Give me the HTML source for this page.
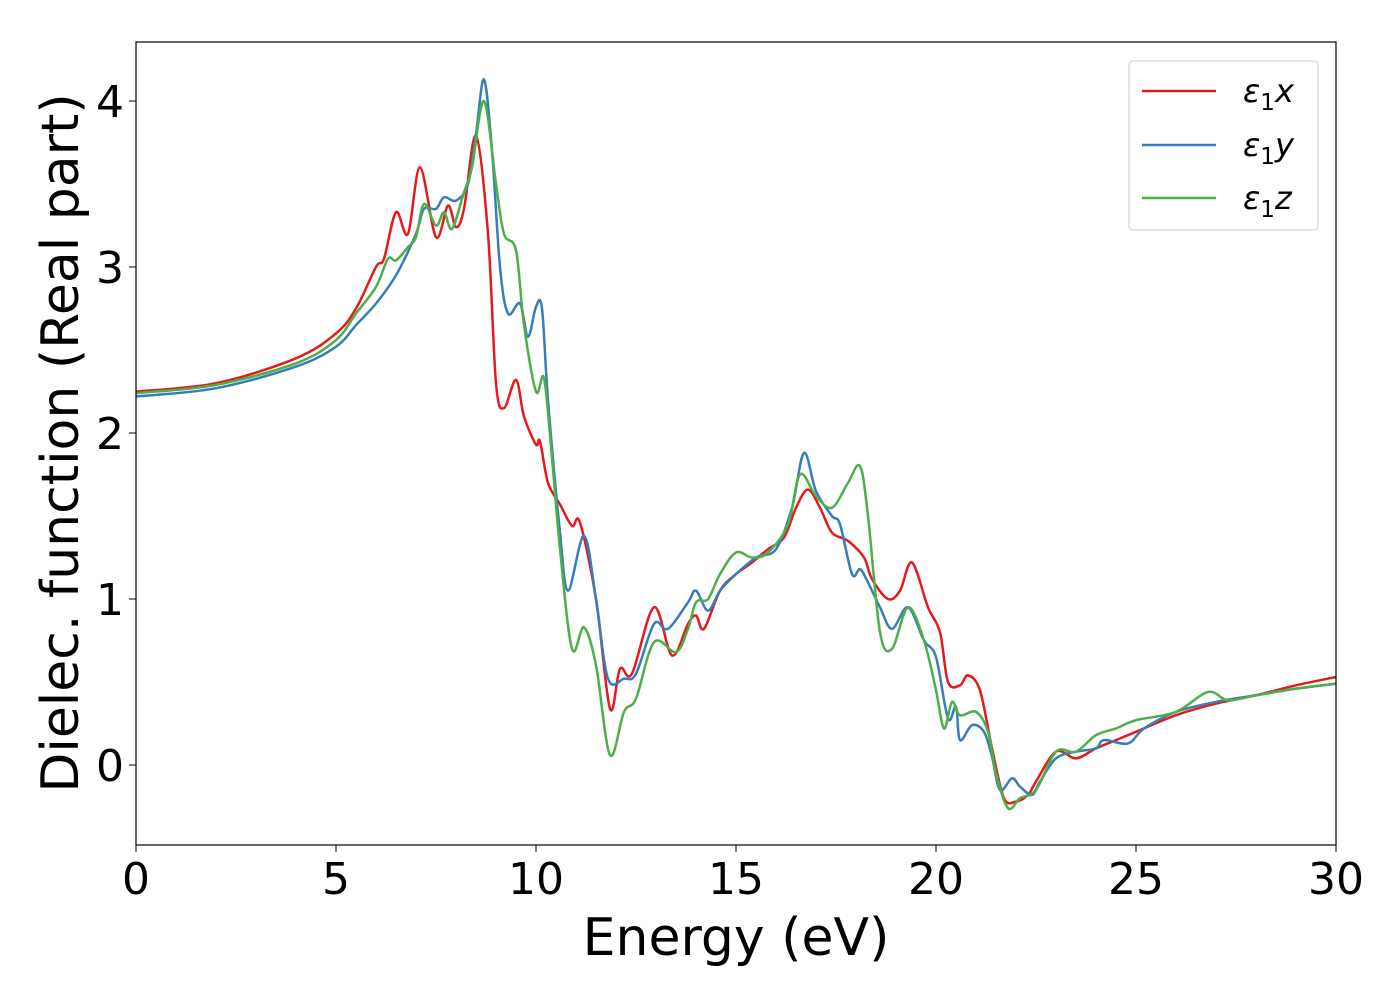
<!DOCTYPE html>
<html><head><meta charset="utf-8"><style>
body{margin:0;background:#fff;}
svg text{font-family:"DejaVu Sans","Liberation Sans",sans-serif;fill:#000;}
</style></head><body>
<svg id="chart" width="1400" height="1000" xmlns="http://www.w3.org/2000/svg">
<g id="grid"></g>
<g id="series"></g>
<rect x="136" y="42" width="1200" height="803" fill="none" stroke="#000" stroke-width="1.2"/>
<g id="ticks"></g>
<text x="736" y="955" font-size="52" text-anchor="middle">Energy (eV)</text>
<text transform="translate(78,443) rotate(-90)" font-size="52" text-anchor="middle">Dielec. function (Real part)</text>
<g>
<rect x="1129" y="61" width="189" height="169" rx="4" fill="#fff" stroke="#ccc" stroke-width="1"/>
<line x1="1142" y1="91" x2="1216" y2="91" stroke="#e41a1c" stroke-width="2.5"/>
<text x="1243" y="102" font-size="32" font-style="italic">ε<tspan font-style="normal" font-size="23" dy="8">1</tspan><tspan dy="-8">x</tspan></text>
<line x1="1142" y1="145" x2="1216" y2="145" stroke="#377eb8" stroke-width="2.5"/>
<text x="1243" y="156" font-size="32" font-style="italic">ε<tspan font-style="normal" font-size="23" dy="8">1</tspan><tspan dy="-8">y</tspan></text>
<line x1="1142" y1="198" x2="1216" y2="198" stroke="#4daf4a" stroke-width="2.5"/>
<text x="1243" y="209" font-size="32" font-style="italic">ε<tspan font-style="normal" font-size="23" dy="8">1</tspan><tspan dy="-8">z</tspan></text>
</g>
</svg>
<script>
const xTicks=[0,5,10,15,20,25,30];
const yTicks=[0,1,2,3,4];
const redE=[0,2,4,5,5.5,6,6.2,6.5,6.8,7.1,7.5,7.8,8.0,8.2,8.5,8.8,9.0,9.2,9.5,9.7,10.0,10.1,10.3,10.6,10.9,11.1,11.5,11.85,12.1,12.4,12.95,13.4,13.8,14.0,14.2,14.6,15.0,15.4,15.8,16.2,16.5,16.8,17.1,17.4,17.8,18.2,18.4,18.8,19.1,19.4,19.8,20.1,20.3,20.6,20.8,21.1,21.4,21.7,22.0,22.3,22.5,23.0,23.5,24.0,24.5,25,26,27,28,29,30];
const redV=[2.25,2.30,2.45,2.60,2.75,3.0,3.05,3.33,3.2,3.60,3.18,3.37,3.24,3.35,3.79,3.2,2.3,2.15,2.32,2.1,1.93,1.95,1.7,1.57,1.44,1.46,1.0,0.34,0.58,0.55,0.95,0.66,0.85,0.90,0.82,1.05,1.15,1.22,1.30,1.37,1.55,1.66,1.55,1.40,1.35,1.25,1.12,1.0,1.05,1.22,0.95,0.80,0.50,0.48,0.54,0.45,0.1,-0.2,-0.22,-0.18,-0.1,0.08,0.04,0.1,0.15,0.2,0.3,0.37,0.42,0.48,0.53];
const blueE=[0,2,4,5,5.5,6,6.5,7.0,7.2,7.5,7.7,8.0,8.3,8.5,8.7,8.9,9.1,9.3,9.6,9.8,10.0,10.15,10.3,10.6,10.8,11.2,11.5,11.8,12.2,12.5,12.95,13.3,13.8,14.0,14.3,14.6,15.0,15.5,16.0,16.4,16.7,17.0,17.4,17.6,17.9,18.1,18.3,18.6,18.9,19.3,19.7,20.0,20.3,20.5,20.6,20.9,21.2,21.4,21.6,21.9,22.1,22.4,22.6,23.0,23.5,24.0,24.2,24.8,25.2,26,27,28,29,30];
const blueV=[2.22,2.27,2.4,2.52,2.65,2.78,2.95,3.2,3.35,3.35,3.42,3.4,3.5,3.8,4.13,3.7,3.0,2.72,2.78,2.58,2.76,2.75,2.2,1.4,1.05,1.38,1.0,0.52,0.52,0.55,0.85,0.82,0.98,1.05,0.93,1.05,1.15,1.25,1.3,1.55,1.88,1.65,1.5,1.45,1.15,1.18,1.1,0.95,0.82,0.95,0.75,0.65,0.28,0.35,0.15,0.24,0.2,0.05,-0.15,-0.08,-0.13,-0.18,-0.1,0.04,0.08,0.1,0.15,0.13,0.22,0.32,0.38,0.42,0.46,0.49];
const greenE=[0,2,4,5,5.5,6,6.3,6.5,6.8,7.0,7.2,7.5,7.7,7.9,8.2,8.4,8.7,9.0,9.2,9.5,9.7,10.0,10.2,10.4,10.6,10.9,11.2,11.5,11.85,12.2,12.5,12.95,13.5,13.8,14.0,14.3,14.6,15.0,15.4,15.8,16.3,16.6,17.0,17.4,17.8,18.1,18.3,18.6,18.9,19.3,19.7,20.0,20.2,20.4,20.6,21.0,21.3,21.5,21.8,22.1,22.5,23.0,23.5,24,24.5,25,26,26.8,27.3,28,29,30];
const greenV=[2.24,2.29,2.42,2.56,2.72,2.88,3.05,3.04,3.12,3.18,3.38,3.25,3.33,3.23,3.45,3.6,4.0,3.5,3.2,3.1,2.65,2.25,2.33,1.85,1.3,0.7,0.83,0.6,0.06,0.32,0.4,0.74,0.68,0.82,0.98,1.0,1.15,1.28,1.25,1.28,1.45,1.75,1.62,1.55,1.7,1.8,1.5,0.80,0.7,0.95,0.75,0.45,0.22,0.38,0.30,0.32,0.2,-0.05,-0.26,-0.2,-0.15,0.08,0.08,0.18,0.22,0.27,0.32,0.44,0.39,0.42,0.46,0.49];
const xS=e=>136+e*40;
const yS=v=>765-v*166;
const NS="http://www.w3.org/2000/svg";
const tg=document.getElementById('ticks');
xTicks.forEach(t=>{
  const l=document.createElementNS(NS,'line');
  
  
  l.setAttribute('x1',xS(t));l.setAttribute('x2',xS(t));l.setAttribute('y1',845);l.setAttribute('y2',852);l.setAttribute('stroke','#000');
  tg.appendChild(l);
  const tx=document.createElementNS(NS,'text');
  
  
  tx.setAttribute('x',xS(t));tx.setAttribute('y',894);tx.setAttribute('font-size','44');tx.setAttribute('text-anchor','middle');
  tx.textContent=t;tg.appendChild(tx);
});
yTicks.forEach(t=>{
  const l=document.createElementNS(NS,'line');
  
  
  l.setAttribute('x1',129);l.setAttribute('x2',136);l.setAttribute('y1',yS(t));l.setAttribute('y2',yS(t));l.setAttribute('stroke','#000');
  tg.appendChild(l);
  const tx=document.createElementNS(NS,'text');
  
  
  tx.setAttribute('x',124);tx.setAttribute('y',yS(t)+16);tx.setAttribute('font-size','44');tx.setAttribute('text-anchor','end');
  tx.textContent=t;tg.appendChild(tx);
});
function smooth(E,V){
  const p=E.map((e,i)=>[xS(e),yS(V[i])]);
  let d='M'+p[0][0]+','+p[0][1];
  for(let i=0;i<p.length-1;i++){
    const p0=p[Math.max(i-1,0)],p1=p[i],p2=p[i+1],p3=p[Math.min(i+2,p.length-1)];
    const c1=[p1[0]+(p2[0]-p0[0])/6,p1[1]+(p2[1]-p0[1])/6];
    const c2=[p2[0]-(p3[0]-p1[0])/6,p2[1]-(p3[1]-p1[1])/6];
    d+=' C'+c1.join(',')+' '+c2.join(',')+' '+p2.join(',');
  }
  return d;
}
const sg=document.getElementById('series');
[[redE,redV,'#e41a1c','series-eps1-x'],[blueE,blueV,'#377eb8','series-eps1-y'],[greenE,greenV,'#4daf4a','series-eps1-z']].forEach(s=>{
  const path=document.createElementNS(NS,'path');
  
  
  path.setAttribute('d',smooth(s[0],s[1]));
  path.setAttribute('fill','none');path.setAttribute('stroke',s[2]);path.setAttribute('stroke-width','2.5');
  sg.appendChild(path);
});
</script>
</body></html>
